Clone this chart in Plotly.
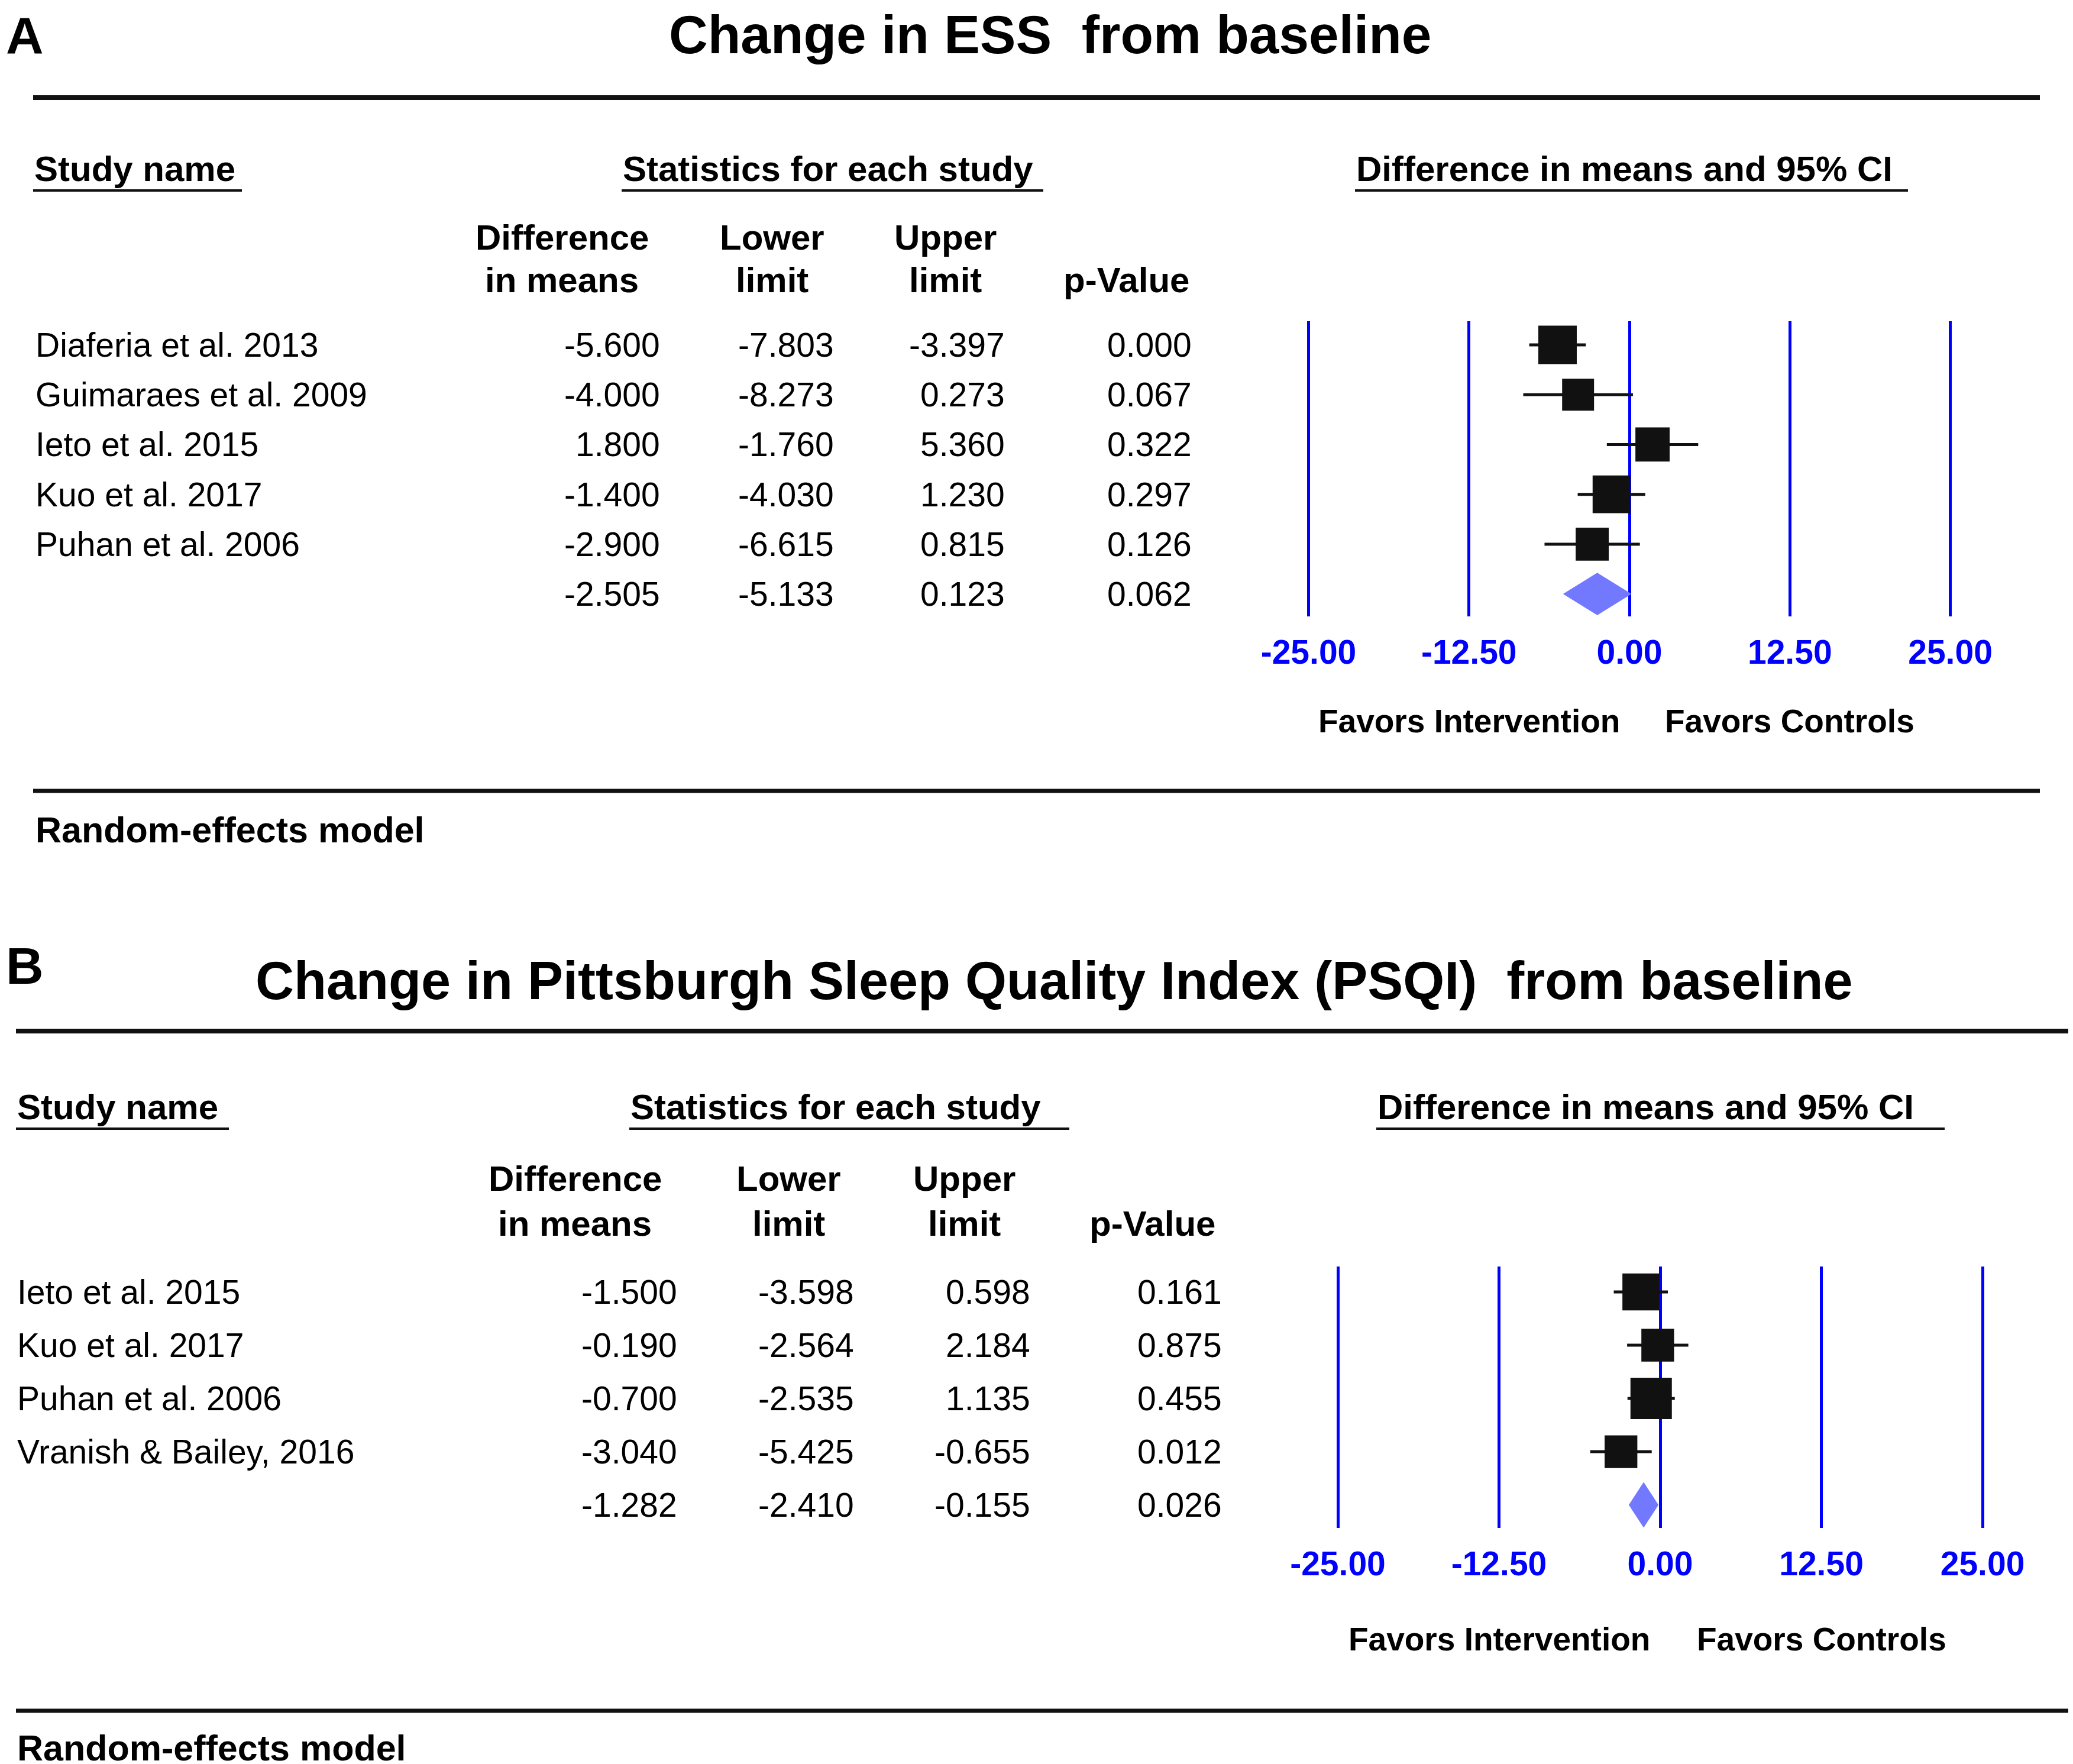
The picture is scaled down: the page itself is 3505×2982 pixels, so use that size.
import plotly.graph_objects as go

W, H = 3505, 2982
OFF = 8  # default page body margin
FONT = "Liberation Sans, Arial, Helvetica, sans-serif"

# ---------------- Data: Panel A (ESS) ----------------
ess_title = "Change in ESS  from baseline"
ess_studies = ["Diaferia et al. 2013", "Guimaraes et al. 2009", "Ieto et al. 2015",
               "Kuo et al. 2017", "Puhan et al. 2006"]
ess_diff = [-5.600, -4.000, 1.800, -1.400, -2.900]
ess_lower = [-7.803, -8.273, -1.760, -4.030, -6.615]
ess_upper = [-3.397, 0.273, 5.360, 1.230, 0.815]
ess_p = [0.000, 0.067, 0.322, 0.297, 0.126]
ess_rel_weight = [1.00, 0.83, 0.89, 0.98, 0.86]
ess_pooled = [-2.505, -5.133, 0.123, 0.062]  # diff, lower, upper, p

# ---------------- Data: Panel B (PSQI) ----------------
psqi_title = "Change in Pittsburgh Sleep Quality Index (PSQI)  from baseline"
psqi_studies = ["Ieto et al. 2015", "Kuo et al. 2017", "Puhan et al. 2006",
                "Vranish & Bailey, 2016"]
psqi_diff = [-1.500, -0.190, -0.700, -3.040]
psqi_lower = [-3.598, -2.564, -2.535, -5.425]
psqi_upper = [0.598, 2.184, 1.135, -0.655]
psqi_p = [0.161, 0.875, 0.455, 0.012]
psqi_rel_weight = [0.89, 0.79, 1.00, 0.79]
psqi_pooled = [-1.282, -2.410, -0.155, 0.026]

tick_vals = [-25, -12.5, 0, 12.5, 25]
tick_text = [f"{v:.2f}" for v in tick_vals]
favors_left = "Favors Intervention"
favors_right = "Favors Controls"
col_headers = [("Difference", "in means"), ("Lower", "limit"), ("Upper", "limit"), ("", "p-Value")]
section_heads = ["Study name", "Statistics for each study", "Difference in means and 95% CI"]
model_label = "Random-effects model"

# ---------------- Styles ----------------
BLUE = "#0000FF"
BLACK = "#111111"
DIAMOND = "#7279FF"


def px(x):
    return (x - OFF) / W


def py(y):
    return 1 - (y - OFF) / H


fig = go.Figure()
annotations = []
shapes = []


def text(t, x, y, yref="paper", xanchor="left", size=57, bold=False, color="black",
         xref="paper", yanchor="middle"):
    annotations.append(dict(
        text=f"<b>{t}</b>" if bold else t,
        x=x, y=y, xref=xref, yref=yref, xanchor=xanchor, yanchor=yanchor,
        showarrow=False, font=dict(family=FONT, size=size, color=color)))


def hline(x0, x1, y, w):
    shapes.append(dict(type="line", xref="paper", yref="paper",
                       x0=px(x0), x1=px(x1), y0=py(y), y1=py(y),
                       line=dict(color=BLACK, width=w)))


def panel(cfg):
    xref, yref = cfg["x"], cfg["y"]
    studies, diff, lo, hi, pv, wts, pooled = cfg["data"]
    n = len(studies)
    rows = list(range(n))
    # CI lines + squares
    fig.add_trace(go.Scatter(
        x=diff, y=rows, xaxis=xref, yaxis=yref, mode="markers",
        marker=dict(symbol="square", color=BLACK, opacity=1,
                    size=[cfg["max_sq"] * w for w in wts], line=dict(width=0)),
        error_x=dict(type="data", symmetric=False,
                     array=[h - d for h, d in zip(hi, diff)],
                     arrayminus=[d - l for d, l in zip(diff, lo)],
                     thickness=5, width=0, color=BLACK),
        showlegend=False, hoverinfo="skip", cliponaxis=False))
    # pooled diamond
    d, l, u, _ = pooled
    hh = 0.42
    fig.add_trace(go.Scatter(
        x=[l, d, u, d, l], y=[n, n - hh, n, n + hh, n], xaxis=xref, yaxis=yref,
        mode="lines", fill="toself", fillcolor=DIAMOND,
        line=dict(color=DIAMOND, width=1), showlegend=False, hoverinfo="skip"))
    # table rows
    c = cfg["cols"]
    for i in range(n):
        text(studies[i], px(cfg["name_x"]), i, yref=yref)
        for j, v in enumerate([diff[i], lo[i], hi[i], pv[i]]):
            text(f"{v:.3f}", px(c[j]), i, yref=yref, xanchor="right")
    for j, v in enumerate(pooled):
        text(f"{v:.3f}", px(c[j]), n, yref=yref, xanchor="right")
    # header texts
    for (t, (x0, x1)) in zip(section_heads, cfg["heads"]):
        text(t, px(x0), py(cfg["head_y"]), bold=True, size=60)
        hline(x0, x1, cfg["head_ul"], 4)
    for (l1, l2), cx in zip(col_headers, cfg["hcols"]):
        if l1:
            text(l1, px(cx), py(cfg["hrow_y"][0]), xanchor="center", bold=True, size=60)
        text(l2, px(cx), py(cfg["hrow_y"][1]), xanchor="center", bold=True, size=60)
    # favors
    text(favors_left, -12.5, py(cfg["fav_y"]), xref=xref, xanchor="center", bold=True, size=55)
    text(favors_right, 12.5, py(cfg["fav_y"]), xref=xref, xanchor="center", bold=True, size=55)
    # titles and letters
    text(cfg["letter"], px(cfg["letter_x"]), py(cfg["letter_y"]), bold=True, size=88,
         yanchor=cfg["letter_anchor"])
    text(cfg["title"], px(cfg["title_x"]), py(cfg["title_y"]), xanchor="center", bold=True,
         size=cfg["title_size"])
    text(model_label, px(cfg["name_x"]), py(cfg["model_y"]), bold=True, size=61)
    hline(cfg["rule_x"][0], cfg["rule_x"][1], cfg["top_rule"], 8)
    hline(cfg["rule_x"][0], cfg["rule_x"][1], cfg["bot_rule"], 7)


panel(dict(
    x="x", y="y", letter="A", title=ess_title, title_size=91,
    data=(ess_studies, ess_diff, ess_lower, ess_upper, ess_p, ess_rel_weight, ess_pooled),
    max_sq=65, name_x=58, cols=[1118, 1412, 1701, 2017],
    heads=[(56, 409), (1051, 1764), (2291, 3226)], head_y=286, head_ul=322,
    hcols=[950, 1305, 1598, 1904], hrow_y=(402, 474), fav_y=1219,
    letter_x=OFF, letter_y=OFF, letter_anchor="top", title_x=1775, title_y=58, model_y=1403,
    rule_x=(56, 3449), top_rule=165, bot_rule=1337))

panel(dict(
    x="x2", y="y2", letter="B", title=psqi_title, title_size=90,
    data=(psqi_studies, psqi_diff, psqi_lower, psqi_upper, psqi_p, psqi_rel_weight, psqi_pooled),
    max_sq=70, name_x=27, cols=[1147, 1446, 1744, 2068],
    heads=[(27, 387), (1064, 1808), (2327, 3288)], head_y=1871, head_ul=1908,
    hcols=[972, 1333, 1630, 1948], hrow_y=(1992, 2068), fav_y=2771,
    letter_x=OFF, letter_y=1632, letter_anchor="middle", title_x=1782, title_y=1658,
    model_y=2955, rule_x=(27, 3520), top_rule=1743, bot_rule=2892))

axis_common = dict(range=[-27, 27], tickvals=tick_vals, ticktext=tick_text,
                   tickfont=dict(family=FONT, size=57, color=BLUE, weight="bold"),
                   showgrid=True, gridcolor=BLUE, gridwidth=5, zeroline=False,
                   showline=False, ticks="", ticklabelstandoff=22, fixedrange=True,
                   automargin=False)
yaxis_common = dict(showgrid=False, zeroline=False, showticklabels=False,
                    showline=False, ticks="", fixedrange=True, automargin=False)

fig.update_layout(
    width=W, height=H, margin=dict(l=0, r=0, t=0, b=0, pad=0, autoexpand=False),
    paper_bgcolor="white", plot_bgcolor="white", showlegend=False,
    xaxis=dict(domain=[px(2755 - 27 * 21.7), px(2755 + 27 * 21.7)], anchor="y", **axis_common),
    yaxis=dict(domain=[py(1042), py(543)], range=[5.45, -0.475], anchor="x", **yaxis_common),
    xaxis2=dict(domain=[px(2807 - 27 * 21.8), px(2807 + 27 * 21.8)], anchor="y2", **axis_common),
    yaxis2=dict(domain=[py(2583), py(2141)], range=[4.433, -0.478], anchor="x2", **yaxis_common),
    annotations=annotations, shapes=shapes,
)

fig.write_html("out.html")
